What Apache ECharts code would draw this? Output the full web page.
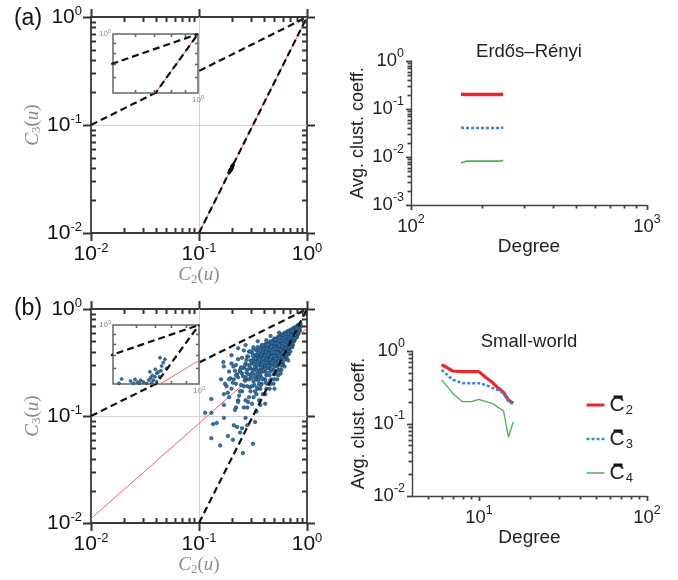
<!DOCTYPE html>
<html><head><meta charset="utf-8">
<script src="https://cdn.jsdelivr.net/npm/echarts@6/dist/echarts.min.js"></script>
<style>html,body{margin:0;padding:0;background:#fff}#c{width:678px;height:580px}</style>
</head><body><div id="c"></div>
<script>
// ---------------- data ----------------
const leftMajorTicks = [0.01, 0.1, 1];
const leftMinorTicks = [0.02,0.03,0.04,0.05,0.06,0.07,0.08,0.09,0.2,0.3,0.4,0.5,0.6,0.7,0.8,0.9];
const leftGridTicks = [0.1];
const insetMinorTicks = [0.6,0.7,0.8,0.9];
const insetLabelTicks = [1];
const erXMajor = [100, 1000];
const erXMinor = [200,300,400,500,600,700,800,900];
const erYMajor = [0.001, 0.01, 0.1, 1];
const erYMinor = [0.002,0.003,0.004,0.005,0.006,0.007,0.008,0.009,0.02,0.03,0.04,0.05,0.06,0.07,0.08,0.09,0.2,0.3,0.4,0.5,0.6,0.7,0.8,0.9];
const swXMajor = [10, 100];
const swXMinor = [5,6,7,8,9,20,30,40,50,60,70,80,90];
const swYMajor = [0.01, 0.1, 1];
const swYMinor = [0.02,0.03,0.04,0.05,0.06,0.07,0.08,0.09,0.2,0.3,0.4,0.5,0.6,0.7,0.8,0.9];

// guide lines C3 = C2^(1/2) and C3 = C2^2, and fitted lines
const guideHalfX = [0.01, 1], guideHalfY = [0.1, 1];
const guideSqX = [0.1, 1], guideSqY = [0.01, 1];
const fitAX = [0.1, 1], fitAY = [0.01, 1];
const fitBX = [0.01, 1], fitBY = [0.011, 0.66];

// (a) Erdos-Renyi node cloud
const blobA = [[0.190,0.0362],[0.193,0.0372],[0.196,0.0384],[0.199,0.0396],[0.202,0.0408],[0.205,0.0420],
  [0.197,0.0380],[0.201,0.0412],[0.194,0.0381],[0.199,0.0388],[0.203,0.0402],[0.207,0.0428]];

// (b) small-world node cloud [C2, C3]
const scatterB = [
[0.86,0.71],[0.88,0.69],[0.85,0.66],[0.87,0.73],[0.86,0.63],
[0.82,0.70],[0.80,0.67],[0.83,0.65],[0.81,0.62],[0.84,0.68],[0.80,0.60],[0.82,0.58],[0.83,0.71],[0.81,0.55],[0.84,0.61],
[0.78,0.68],[0.77,0.65],[0.79,0.63],[0.76,0.61],[0.78,0.59],[0.77,0.56],[0.79,0.54],[0.76,0.66],[0.78,0.62],[0.77,0.52],[0.79,0.58],[0.76,0.50],
[0.74,0.66],[0.73,0.63],[0.75,0.61],[0.72,0.59],[0.74,0.57],[0.73,0.55],[0.75,0.53],[0.72,0.51],[0.74,0.49],[0.73,0.60],[0.75,0.64],[0.72,0.56],[0.74,0.46],[0.73,0.44],[0.75,0.58],
[0.70,0.64],[0.69,0.61],[0.71,0.59],[0.68,0.57],[0.70,0.55],[0.69,0.53],[0.71,0.51],[0.68,0.49],[0.70,0.47],[0.69,0.45],[0.71,0.62],[0.68,0.60],[0.70,0.52],[0.69,0.43],[0.71,0.56],[0.70,0.40],[0.68,0.38],[0.71,0.48],
[0.66,0.62],[0.65,0.60],[0.67,0.58],[0.64,0.56],[0.66,0.54],[0.65,0.52],[0.67,0.50],[0.64,0.48],[0.66,0.46],[0.65,0.44],[0.67,0.42],[0.64,0.59],[0.66,0.57],[0.65,0.49],[0.67,0.55],[0.64,0.40],[0.66,0.38],[0.65,0.35],[0.67,0.33],[0.64,0.45],
[0.62,0.60],[0.61,0.58],[0.63,0.56],[0.60,0.54],[0.62,0.52],[0.61,0.50],[0.63,0.48],[0.60,0.46],[0.62,0.44],[0.61,0.42],[0.63,0.40],[0.60,0.38],[0.62,0.36],[0.61,0.55],[0.63,0.53],[0.60,0.51],[0.62,0.47],[0.61,0.45],[0.63,0.34],[0.60,0.31],[0.62,0.29],[0.61,0.39],
[0.58,0.58],[0.57,0.56],[0.59,0.54],[0.56,0.52],[0.58,0.50],[0.57,0.48],[0.59,0.46],[0.56,0.44],[0.58,0.42],[0.57,0.40],[0.59,0.38],[0.56,0.36],[0.58,0.34],[0.57,0.32],[0.59,0.51],[0.56,0.49],[0.58,0.45],[0.57,0.43],[0.59,0.30],[0.56,0.55],[0.58,0.27],[0.57,0.25],[0.59,0.41],
[0.54,0.55],[0.53,0.53],[0.55,0.51],[0.52,0.49],[0.54,0.47],[0.53,0.45],[0.55,0.43],[0.52,0.41],[0.54,0.39],[0.53,0.37],[0.55,0.35],[0.52,0.33],[0.54,0.31],[0.53,0.29],[0.55,0.48],[0.52,0.46],[0.54,0.42],[0.53,0.40],[0.55,0.27],[0.52,0.51],[0.54,0.24],[0.53,0.22],[0.55,0.38],[0.52,0.36],
[0.50,0.53],[0.49,0.51],[0.51,0.49],[0.48,0.47],[0.50,0.45],[0.49,0.43],[0.51,0.41],[0.48,0.39],[0.50,0.37],[0.49,0.35],[0.51,0.33],[0.48,0.31],[0.50,0.29],[0.49,0.27],[0.51,0.46],[0.48,0.44],[0.50,0.40],[0.49,0.38],[0.51,0.25],[0.48,0.49],[0.50,0.22],[0.49,0.20],[0.51,0.36],[0.48,0.34],[0.50,0.18],
[0.46,0.50],[0.45,0.48],[0.47,0.46],[0.44,0.44],[0.46,0.42],[0.45,0.40],[0.47,0.38],[0.44,0.36],[0.46,0.34],[0.45,0.32],[0.47,0.30],[0.44,0.28],[0.46,0.26],[0.45,0.24],[0.47,0.43],[0.44,0.41],[0.46,0.37],[0.45,0.35],[0.47,0.22],[0.44,0.47],[0.46,0.20],[0.45,0.18],[0.47,0.33],[0.44,0.31],
[0.42,0.48],[0.41,0.46],[0.43,0.44],[0.40,0.42],[0.42,0.40],[0.41,0.38],[0.43,0.36],[0.40,0.34],[0.42,0.32],[0.41,0.30],[0.43,0.28],[0.40,0.26],[0.42,0.24],[0.41,0.22],[0.43,0.20],[0.40,0.39],[0.42,0.35],[0.41,0.33],[0.43,0.41],[0.40,0.30],[0.42,0.18],[0.41,0.16],
[0.38,0.46],[0.37,0.43],[0.39,0.41],[0.38,0.38],[0.37,0.36],[0.39,0.34],[0.38,0.32],[0.37,0.30],[0.39,0.28],[0.38,0.26],[0.37,0.24],[0.39,0.22],[0.38,0.20],[0.37,0.18],[0.39,0.37],[0.38,0.29],[0.39,0.16],[0.37,0.27],
[0.35,0.44],[0.34,0.41],[0.36,0.39],[0.35,0.36],[0.34,0.34],[0.36,0.32],[0.35,0.30],[0.34,0.28],[0.36,0.26],[0.35,0.24],[0.34,0.22],[0.36,0.20],[0.35,0.18],[0.34,0.16],[0.36,0.14],[0.35,0.33],[0.36,0.23],
[0.32,0.42],[0.31,0.39],[0.33,0.37],[0.32,0.34],[0.31,0.31],[0.33,0.29],[0.32,0.27],[0.31,0.25],[0.33,0.23],[0.32,0.21],[0.31,0.19],[0.33,0.17],[0.32,0.15],[0.31,0.13],[0.33,0.32],
[0.29,0.40],[0.28,0.36],[0.30,0.33],[0.29,0.30],[0.28,0.27],[0.30,0.24],[0.29,0.22],[0.28,0.19],[0.30,0.17],[0.29,0.15],[0.28,0.12],[0.30,0.28],
[0.26,0.41],[0.25,0.35],[0.27,0.31],[0.26,0.28],[0.25,0.25],[0.27,0.22],[0.26,0.19],[0.25,0.17],[0.27,0.14],[0.26,0.12],
[0.23,0.34],[0.22,0.30],[0.24,0.26],[0.23,0.23],[0.22,0.20],[0.24,0.17],[0.23,0.14],[0.22,0.12],
[0.20,0.31],[0.19,0.26],[0.21,0.22],[0.20,0.18],[0.19,0.15],
[0.17,0.29],[0.16,0.22],[0.18,0.19],[0.17,0.16],[0.174,0.20],
[0.13,0.144],[0.135,0.084],[0.157,0.053],[0.206,0.06],[0.255,0.045],[0.316,0.055],[0.24,0.07],[0.146,0.086],[0.13,0.062],
[0.185,0.065],[0.25,0.077],[0.225,0.079],[0.21,0.082],[0.33,0.088],[0.28,0.082],[0.41,0.13],[0.27,0.096],[0.17,0.096],
[0.114,0.107],[0.13,0.107],[0.17,0.127],[0.215,0.114],[0.23,0.135],[0.285,0.135],[0.34,0.11],[0.37,0.127],
[0.845,0.645],[0.825,0.675],[0.805,0.635],[0.815,0.595],[0.795,0.655],[0.785,0.605],[0.775,0.575],[0.765,0.635],[0.755,0.595],[0.745,0.545],
[0.765,0.535],[0.735,0.615],[0.725,0.575],[0.745,0.625],[0.715,0.535],[0.735,0.505],[0.725,0.475],[0.705,0.605],[0.695,0.575],[0.715,0.565],
[0.685,0.545],[0.705,0.505],[0.695,0.485],[0.685,0.465],[0.705,0.445],[0.675,0.605],[0.665,0.585],[0.655,0.555],[0.675,0.525],[0.655,0.505],
[0.665,0.475],[0.645,0.455],[0.675,0.445],[0.655,0.415],[0.645,0.375],[0.635,0.575],[0.625,0.545],[0.615,0.515],[0.635,0.495],[0.625,0.465],
[0.605,0.485],[0.615,0.435],[0.635,0.425],[0.605,0.405],[0.625,0.375],[0.615,0.335],[0.595,0.565],[0.585,0.535],[0.575,0.505],[0.595,0.475],
[0.585,0.445],[0.565,0.465],[0.575,0.415],[0.595,0.395],[0.565,0.375],[0.585,0.355],[0.575,0.295],[0.555,0.535],[0.545,0.505],[0.535,0.475],
[0.555,0.455],[0.545,0.425],[0.525,0.435],[0.535,0.385],[0.555,0.365],[0.525,0.345],[0.545,0.325],[0.535,0.265],[0.515,0.515],[0.505,0.475],
[0.495,0.445],[0.515,0.425],[0.505,0.395],[0.485,0.415],[0.495,0.365],[0.515,0.345],[0.485,0.325],[0.505,0.305],[0.495,0.245],[0.475,0.485],
[0.465,0.445],[0.455,0.415],[0.475,0.395],[0.465,0.355],[0.445,0.385],[0.455,0.335],[0.475,0.315],[0.445,0.295],[0.465,0.275],[0.455,0.215],
[0.435,0.465],[0.425,0.425],[0.415,0.395],[0.435,0.375],[0.425,0.335],[0.405,0.365],[0.415,0.315],[0.435,0.295],[0.405,0.275],[0.425,0.255],
[0.415,0.205],[0.395,0.445],[0.385,0.395],[0.375,0.375],[0.395,0.345],[0.385,0.305],[0.365,0.335],[0.375,0.285],[0.395,0.265],[0.365,0.245],
[0.385,0.225],[0.375,0.195],[0.355,0.405],[0.345,0.375],[0.335,0.345],[0.355,0.315],[0.345,0.265],[0.325,0.305],[0.335,0.245],[0.355,0.215],
[0.325,0.195],[0.345,0.185],[0.315,0.365],[0.305,0.325],[0.295,0.285],[0.315,0.265],[0.305,0.225],[0.285,0.245],[0.295,0.185],[0.275,0.335],
[0.265,0.295],[0.275,0.255],[0.265,0.215],[0.245,0.285],[0.255,0.235],[0.245,0.195],[0.235,0.155],[0.215,0.265],[0.205,0.205],[0.225,0.245],
[0.195,0.225],[0.185,0.165],
[0.168,0.32],[0.208,0.29],[0.297,0.40],[0.285,0.36],[0.24,0.27],[0.32,0.44],[0.39,0.46],[0.42,0.51],[0.22,0.24],[0.19,0.22],
[0.27,0.23],[0.355,0.385],[0.23,0.43],[0.20,0.37],[0.27,0.46],[0.35,0.50],[0.46,0.56],[0.55,0.60]
];
const insetScatterB = [[0.525,0.504],[0.536,0.530],[0.576,0.518],[0.589,0.504],[0.597,0.528],[0.609,0.512],[0.625,0.522],
  [0.639,0.512],[0.656,0.504],[0.668,0.524],[0.677,0.538],[0.686,0.553],[0.692,0.524],[0.701,0.545],[0.711,0.567],
  [0.720,0.575],[0.727,0.545],[0.736,0.585],[0.740,0.618],[0.750,0.643],[0.760,0.668],[0.730,0.681],[0.703,0.594],
  [0.673,0.578],[0.618,0.504],[0.711,0.514],[0.683,0.508],[0.771,0.601]];

// Erdos-Renyi average clustering coefficients vs degree
const erDegree = [163, 170, 180, 190, 200, 210, 220, 230, 240, 246];
const erC2 = [0.203, 0.201, 0.200, 0.201, 0.200, 0.200, 0.201, 0.200, 0.201, 0.202];
const erC3 = [0.041, 0.040, 0.040, 0.040, 0.040, 0.040, 0.040, 0.040, 0.040, 0.041];
const erC4 = [0.0076, 0.0081, 0.0082, 0.0082, 0.0082, 0.0082, 0.0082, 0.0082, 0.0083, 0.0086];

// Small-world average clustering coefficients vs degree
const swDegree = [6, 7, 8, 9, 10, 11, 12, 13, 14, 15, 16];
const swC2 = [0.65, 0.53, 0.52, 0.52, 0.52, 0.43, 0.37, 0.31, 0.27, 0.21, 0.19];
const swC3 = [0.55, 0.40, 0.36, 0.36, 0.36, 0.34, 0.31, 0.29, 0.26, 0.20, 0.185];
const swC4 = [0.40, 0.26, 0.20, 0.20, 0.215, 0.20, 0.19, 0.167, 0.15, 0.065, 0.105];

const legendNames = ['C2', 'C3', 'C4'];

// ---------------- styling / building ----------------
const SANS = "'Liberation Sans', Arial, sans-serif";
const SERIF = "'Liberation Serif', 'DejaVu Serif', serif";
const zip = (xs, ys) => xs.map((x, i) => [x, ys[i]]);
const powFmt = v => '{b|10}{s|' + Math.round(Math.log10(v)) + '}';
const richL = { b: { fontSize: 21, fontFamily: SANS, color: '#111' }, s: { fontSize: 13, fontFamily: SANS, color: '#111', padding: [0, 0, 12, 0] } };
const richR = { b: { fontSize: 18.5, fontFamily: SANS, color: '#222' }, s: { fontSize: 12.5, fontFamily: SANS, color: '#222', padding: [0, 0, 15, 0] } };
const richT = { b: { fontSize: 8, fontFamily: SANS, color: '#888' }, s: { fontSize: 5.5, fontFamily: SANS, color: '#888', padding: [0, 0, 5, 0] } };
const nameRich = {
  i: { fontFamily: SERIF, fontStyle: 'italic', fontSize: 19, color: '#8a8a8a' },
  n: { fontFamily: SERIF, fontSize: 19, color: '#8a8a8a' },
  sub: { fontFamily: SERIF, fontSize: 13, color: '#8a8a8a', padding: [8, 0, 0, 0] }
};
const cName = k => '{i|C}{sub|' + k + '}{n|(}{i|u}{n|)}';

const grids = [], xAxes = [], yAxes = [], decor = [];
const addGrid = g => { grids.push(g); return grids.length - 1; };
function push(dim, a) { const list = dim === 'x' ? xAxes : yAxes; list.push(a); return list.length - 1; }

function dataAxis(o) {
  const a = {
    type: 'log', logBase: 10, gridIndex: o.g, position: o.pos, min: o.min, max: o.max, z: o.z || 4, silent: true,
    axisLine: { show: !!o.line, onZero: false, lineStyle: { color: '#444', width: 1.4 } }, axisTick: { show: false },
    axisLabel: o.labels ? { show: true, customValues: o.labels, formatter: powFmt, margin: o.margin, rich: o.rich } : { show: false },
    splitLine: { show: false }, minorTick: { show: false }, minorSplitLine: { show: false }
  };
  if (o.name) { a.name = o.name; a.nameLocation = 'middle'; a.nameGap = o.nameGap; a.nameTextStyle = o.nameStyle; }
  return push(o.dim, a);
}
// tick marks / grid lines placed through the axes' own log scales (api.coord)
function tickMarks(ax, dim, side, values, ref, len, inward, style, z) {
  decor.push({
    type: 'custom', coordinateSystem: 'cartesian2d', xAxisIndex: ax.x, yAxisIndex: ax.y, z, silent: true, clip: false,
    data: values.map(v => dim === 'x' ? [v, ref] : [ref, v]),
    encode: { x: 0, y: 1 },
    renderItem: (params, api) => {
      const cs = params.coordSys;
      const p = api.coord([api.value(0), api.value(1)]);
      const L = len === 'full' ? (dim === 'x' ? cs.height : cs.width) : len;
      let x1, y1, x2, y2;
      if (dim === 'x') {
        const edge = side === 'bottom' ? cs.y + cs.height : cs.y;
        const out = side === 'bottom' ? 1 : -1;
        x1 = x2 = Math.round(p[0]) + 0.5; y1 = edge; y2 = edge + (inward ? -out : out) * L;
      } else {
        const edge = side === 'left' ? cs.x : cs.x + cs.width;
        const out = side === 'left' ? -1 : 1;
        y1 = y2 = Math.round(p[1]) + 0.5; x1 = edge; x2 = edge + (inward ? -out : out) * L;
      }
      return { type: 'line', z2: 10, shape: { x1, y1, x2, y2 }, style: { stroke: style.color, lineWidth: style.width, opacity: 1 } };
    }
  });
}

const gridLn = { color: '#d2d2d2', width: 1 };
const boxTick = { color: '#333', width: 2 };
function mainPanel(rect, k) {
  const [L, T, W, H] = rect;
  const g = addGrid({ left: L, top: T, width: W, height: H, show: true, borderColor: '#3a3a3a', borderWidth: 1.8, backgroundColor: 'rgba(0,0,0,0)' });
  const c = { g, min: 0.01, max: 1 };
  const ax = {
    x: dataAxis({ ...c, dim: 'x', pos: 'bottom', labels: leftMajorTicks, margin: 9, rich: richL,
      name: cName(2), nameGap: 31, nameStyle: { rich: nameRich } }),
    y: dataAxis({ ...c, dim: 'y', pos: 'left', labels: leftMajorTicks, margin: 9, rich: richL,
      name: cName(k), nameGap: 48, nameStyle: { rich: nameRich } })
  };
  tickMarks(ax, 'x', 'bottom', leftGridTicks, 0.01, 'full', true, gridLn, 1);
  tickMarks(ax, 'y', 'left', leftGridTicks, 0.01, 'full', true, gridLn, 1);
  ['bottom', 'top'].forEach(s => {
    tickMarks(ax, 'x', s, leftMajorTicks, 0.01, 8, false, boxTick, 3);
    tickMarks(ax, 'x', s, leftMinorTicks, 0.01, 5, true, boxTick, 3);
  });
  ['left', 'right'].forEach(s => {
    tickMarks(ax, 'y', s, leftMajorTicks, 0.01, 8, false, boxTick, 3);
    tickMarks(ax, 'y', s, leftMinorTicks, 0.01, 5, true, boxTick, 3);
  });
  return ax;
}
function insetPanel(rect) {
  const [L, T, W, H] = rect;
  const g = addGrid({ left: L, top: T, width: W, height: H, show: true, backgroundColor: '#fff', borderColor: '#666', borderWidth: 1.5, z: 5 });
  const c = { g, min: 0.5, max: 1, z: 9 };
  const ax = {
    x: dataAxis({ ...c, dim: 'x', pos: 'bottom', labels: insetLabelTicks, margin: 1, rich: richT }),
    y: dataAxis({ ...c, dim: 'y', pos: 'left', labels: insetLabelTicks, margin: 2, rich: richT })
  };
  const st = { color: '#666', width: 1.6 };
  ['bottom', 'top'].forEach(s => tickMarks(ax, 'x', s, insetMinorTicks, 0.5, 3, true, st, 8));
  ['left', 'right'].forEach(s => tickMarks(ax, 'y', s, insetMinorTicks, 0.5, 3, true, st, 8));
  return ax;
}
function rightPanel(rect, xr, xMaj, xMin, yr, yMaj, yMin) {
  const [L, T, W, H] = rect;
  const g = addGrid({ left: L, top: T, width: W, height: H });
  const nameStyle = { fontSize: 19, fontFamily: SANS, color: '#222' };
  const ax = {
    x: dataAxis({ g, dim: 'x', pos: 'bottom', min: xr[0], max: xr[1], line: true, labels: xMaj, margin: 8, rich: richR,
      name: 'Degree', nameGap: 26, nameStyle }),
    y: dataAxis({ g, dim: 'y', pos: 'left', min: yr[0], max: yr[1], line: true, labels: yMaj, margin: 7, rich: richR,
      name: 'Avg. clust. coeff.', nameGap: 44, nameStyle: { ...nameStyle, fontSize: 18 } })
  };
  const st = { color: '#444', width: 1.8 };
  tickMarks(ax, 'x', 'bottom', xMaj, yr[0], 5, false, st, 3);
  tickMarks(ax, 'x', 'bottom', xMin, yr[0], 3.5, false, st, 3);
  tickMarks(ax, 'y', 'left', yMaj, xr[0], 5, false, st, 3);
  tickMarks(ax, 'y', 'left', yMin, xr[0], 3.5, false, st, 3);
  return ax;
}

const A = mainPanel([91, 17, 216, 216], 3);
const AI = insetPanel([113, 34, 85, 59]);
const B = mainPanel([91, 309, 216, 214], 3);
const BI = insetPanel([113, 325, 86, 59]);
const ER = rightPanel([411, 61, 236, 144], [100, 1000], erXMajor, erXMinor, [0.001, 1], erYMajor, erYMinor);
const SW = rightPanel([412, 351, 235, 145], [4, 100], swXMajor, swXMinor, [0.01, 1], swYMajor, swYMinor);

const dashStyle = { color: '#111', width: 2.2, type: [7, 4] };
const redThin = { color: '#f06262', width: 1 };
function line(ax, data, style, z, name) {
  const o = { type: 'line', xAxisIndex: ax.x, yAxisIndex: ax.y, data, symbol: 'none', showSymbol: false,
    lineStyle: style, itemStyle: { color: style.color }, color: style.color, z, clip: true, silent: true };
  if (name) o.name = name;
  return o;
}
function dots(ax, data, z, color, border, size) {
  return { type: 'scatter', xAxisIndex: ax.x, yAxisIndex: ax.y, data, symbolSize: size, z, clip: true, silent: true,
    itemStyle: { color, borderColor: border, borderWidth: 0.6, opacity: 1 } };
}

const series = [
  line(A, zip(fitAX, fitAY), redThin, 2),
  dots(A, blobA, 2, '#111', '#000', 3),
  line(A, zip(guideHalfX, guideHalfY), dashStyle, 3),
  line(A, zip(guideSqX, guideSqY), dashStyle, 3),
  line(AI, zip(fitAX, fitAY), redThin, 6),
  line(AI, zip(guideHalfX, guideHalfY), dashStyle, 7),
  line(AI, zip(guideSqX, guideSqY), dashStyle, 7),
  line(B, zip(fitBX, fitBY), redThin, 2),
  dots(B, scatterB, 2, '#3473a8', '#173d5e', 3.5),
  line(B, zip(guideHalfX, guideHalfY), dashStyle, 3),
  line(B, zip(guideSqX, guideSqY), dashStyle, 3),
  line(BI, zip(fitBX, fitBY), redThin, 6),
  dots(BI, insetScatterB, 6, '#3473a8', '#173d5e', 3),
  line(BI, zip(guideHalfX, guideHalfY), dashStyle, 7),
  line(BI, zip(guideSqX, guideSqY), dashStyle, 7),
  line(ER, zip(erDegree, erC2), { color: '#e8292b', width: 3.5 }, 4),
  line(ER, zip(erDegree, erC3), { color: '#3a87cf', width: 2.5, type: [3, 2] }, 4),
  line(ER, zip(erDegree, erC4), { color: '#4caf50', width: 1.6 }, 4),
  line(SW, zip(swDegree, swC2), { color: '#e8292b', width: 3.2 }, 4, legendNames[0]),
  line(SW, zip(swDegree, swC3), { color: '#3a87cf', width: 2.5, type: [3, 2] }, 4, legendNames[1]),
  line(SW, zip(swDegree, swC4), { color: '#4caf50', width: 1.3 }, 4, legendNames[2])
].concat(decor);

const option = {
  animation: false,
  backgroundColor: '#fff',
  tooltip: { show: false },
  grid: grids,
  xAxis: xAxes,
  yAxis: yAxes,
  legend: {
    orient: 'vertical', left: 585, top: 391, padding: 0, itemWidth: 18, itemHeight: 14, itemGap: 4,
    selectedMode: false,
    itemStyle: { opacity: 0, borderWidth: 0 },
    data: [
      { name: legendNames[0], lineStyle: { width: 3 } },
      { name: legendNames[1], lineStyle: { width: 2.5 } },
      { name: legendNames[2], lineStyle: { width: 1.5 } }
    ],
    formatter: n => '{sp|}{bar|}\n{c|C}{s|' + n.slice(1) + '}',
    textStyle: {
      rich: {
        sp: { width: 4, height: 6 },
        bar: { width: 9, height: 3, backgroundColor: '#111' },
        c: { fontSize: 21, lineHeight: 16, fontFamily: SANS, color: '#222', padding: [0, 0, 5, 0] },
        s: { fontSize: 13, lineHeight: 16, fontFamily: SANS, color: '#222', padding: [5, 0, 0, 1] }
      }
    }
  },
  graphic: [
    { type: 'text', x: 28, y: 18.5, z: 20, style: { text: '(a)', font: '23px ' + SANS, fill: '#111', align: 'center', verticalAlign: 'middle' } },
    { type: 'text', x: 28, y: 308.5, z: 20, style: { text: '(b)', font: '23px ' + SANS, fill: '#111', align: 'center', verticalAlign: 'middle' } },
    { type: 'text', x: 529, y: 52, z: 20, style: { text: 'Erdős–Rényi', font: '18.5px ' + SANS, fill: '#222', align: 'center', verticalAlign: 'middle' } },
    { type: 'text', x: 529, y: 342, z: 20, style: { text: 'Small-world', font: '18.5px ' + SANS, fill: '#222', align: 'center', verticalAlign: 'middle' } }
  ],
  series
};
const chart = echarts.init(document.getElementById('c'), null, { renderer: 'canvas' });
chart.setOption(option);
</script>
</body></html>
